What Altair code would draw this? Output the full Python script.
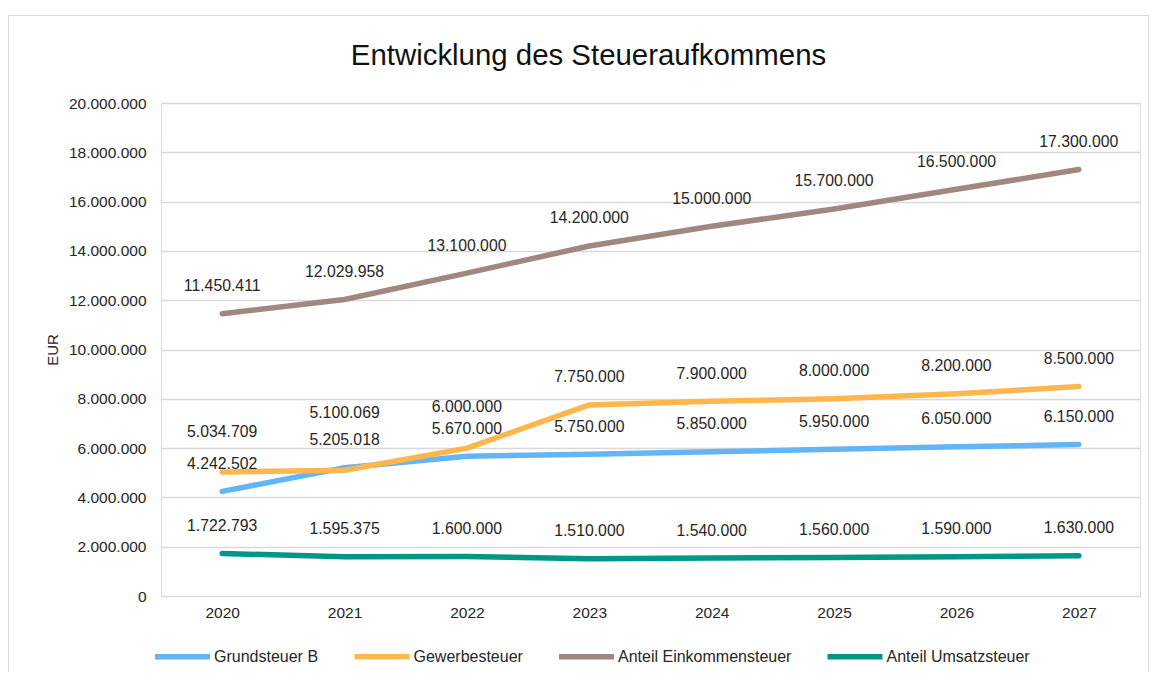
import altair as alt
import pandas as pd

# ---- data ----
YEARS = ["2020", "2021", "2022", "2023", "2024", "2025", "2026", "2027"]
GRUNDSTEUER_B = [4242502, 5205018, 5670000, 5750000, 5850000, 5950000, 6050000, 6150000]
GEWERBESTEUER = [5034709, 5100069, 6000000, 7750000, 7900000, 8000000, 8200000, 8500000]
EINKOMMENSTEUER = [11450411, 12029958, 13100000, 14200000, 15000000, 15700000, 16500000, 17300000]
UMSATZSTEUER = [1722793, 1595375, 1600000, 1510000, 1540000, 1560000, 1590000, 1630000]
SERIES = ["Grundsteuer B", "Gewerbesteuer", "Anteil Einkommensteuer", "Anteil Umsatzsteuer"]
Y_TICKS = [0, 2000000, 4000000, 6000000, 8000000, 10000000, 12000000,
           14000000, 16000000, 18000000, 20000000]

# ---- styling ----
COLORS = ["#64B5F6", "#FFB74D", "#A1887F", "#009688"]
FONT = "Liberation Sans"
TEXT = "#262626"
# label lift (pixels above each point), per series
DEFAULT_LIFT = 27.5
LABEL_LIFT = {"Gewerbesteuer": [40, 57, 41, 27.5, 27.5, 27.5, 27.5, 27.5]}

values_by_series = [GRUNDSTEUER_B, GEWERBESTEUER, EINKOMMENSTEUER, UMSATZSTEUER]
rows = []
for name, vals in zip(SERIES, values_by_series):
    lifts = LABEL_LIFT.get(name, [DEFAULT_LIFT] * len(YEARS))
    for yr, v, lift in zip(YEARS, vals, lifts):
        rows.append({
            "year": yr,
            "series": name,
            "value": v,
            "label": f"{v:,}".replace(",", "."),
            "lift": lift,
        })
df = pd.DataFrame(rows)

x_enc = alt.X(
    "year:N", sort=YEARS, title=None,
    scale=alt.Scale(type="point", padding=0.5),
    axis=alt.Axis(labelAngle=0, labelFontSize=15.5, labelFont=FONT, labelColor=TEXT,
                  labelPadding=9, ticks=False, domain=False, grid=False),
)
y_enc = alt.Y(
    "value:Q", title="EUR",
    scale=alt.Scale(domain=[0, 20000000], nice=False, zero=True),
    axis=alt.Axis(values=Y_TICKS, labelFontSize=15.5, labelFont=FONT, labelColor=TEXT,
                  labelExpr="join(split(format(datum.value, ','), ','), '.')",
                  labelPadding=15, ticks=False, domain=False, grid=True,
                  gridColor="#D9D9D9", gridWidth=1.3,
                  titleFont=FONT, titleFontSize=15, titleFontWeight="normal",
                  titleColor=TEXT, titlePadding=8),
)

base = alt.Chart(df).encode(x=x_enc, y=y_enc)

lines = base.mark_line(strokeWidth=5.5, strokeCap="round", strokeJoin="round").encode(
    color=alt.Color(
        "series:N", sort=SERIES,
        scale=alt.Scale(domain=SERIES, range=COLORS),
        legend=alt.Legend(
            title=None, orient="none", legendX=-9, legendY=523,
            direction="horizontal", columns=4,
            symbolType="stroke", symbolSize=3025, symbolStrokeWidth=5.5,
            labelFont=FONT, labelFontSize=16, labelColor=TEXT,
            labelOffset=1, columnPadding=24.5, labelLimit=400,
        ),
    ),
    detail="series:N",
)

label_layers = []
for lift in sorted(set(df["lift"])):
    label_layers.append(
        base.mark_text(fontSize=15.8, font=FONT, color=TEXT, baseline="middle", dy=-lift)
        .encode(text="label:N")
        .transform_filter(alt.datum.lift == lift)
    )

frame = alt.Chart(alt.Data(values=[{"f": 1}])).mark_rect(
    fillOpacity=0, stroke="#D9D9D9", strokeWidth=1
).encode(
    x=alt.value(-152.5), x2=alt.value(987.5), y=alt.value(-87.5), y2=alt.value(700)
)

chart = alt.layer(frame, lines, *label_layers).properties(
    width=979,
    height=493,
    padding={"left": 153, "top": 95, "right": 12, "bottom": 76},
    autosize=alt.AutoSizeParams(type="none"),
    title=alt.TitleParams(
        "Entwicklung des Steueraufkommens", font=FONT, fontSize=29.4,
        fontWeight="normal", color="#111111", anchor="middle", dx=-62,
        baseline="alphabetic", offset=-79,
    ),
).configure_view(strokeWidth=0).configure(background="white")

chart.save("out.html", embed_options={"renderer": "svg", "actions": False})
